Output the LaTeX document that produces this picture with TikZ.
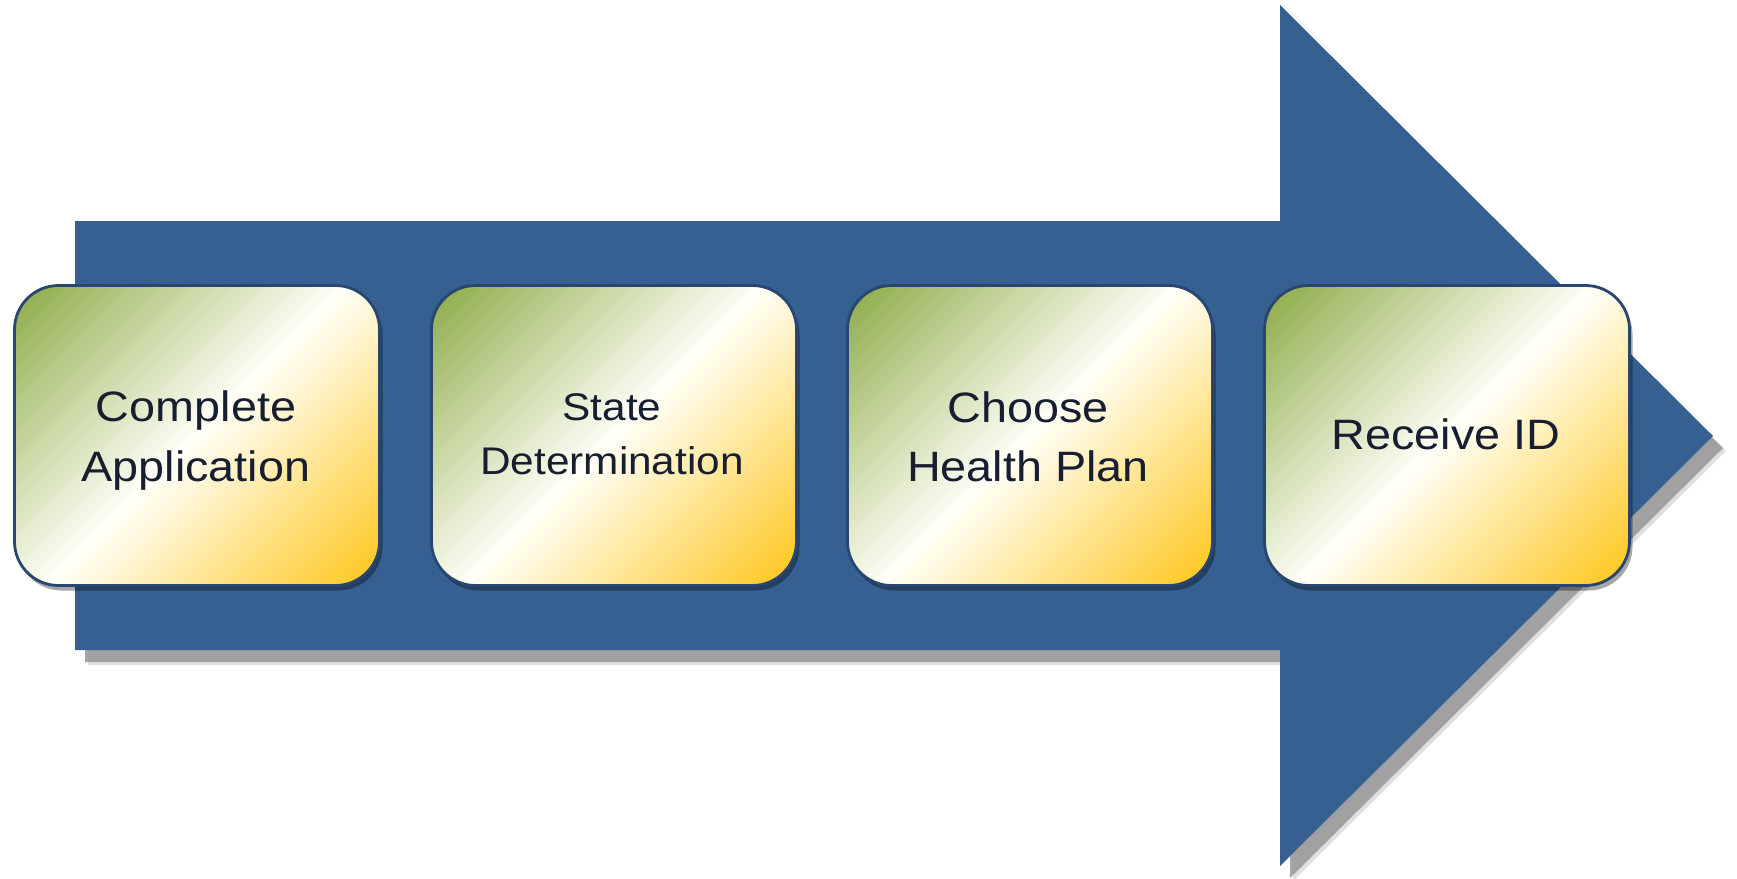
\documentclass[tikz,border=0pt]{standalone}
\usepackage{fontspec}
\setmainfont{Liberation Sans}
\newfontfamily\boxfont[FakeStretch=1.1]{Liberation Sans}
\usetikzlibrary{shadows}
\definecolor{arrowblue}{RGB}{54,96,146}
\definecolor{boxedge}{RGB}{40,70,112}
\definecolor{gtop}{RGB}{138,168,66}
\definecolor{gbot}{RGB}{255,196,20}
\definecolor{gmid}{RGB}{255,255,248}
\definecolor{txt}{RGB}{22,30,48}
\definecolor{shadowgray}{RGB}{150,150,150}
\pgfdeclareverticalshading{stepshade}{100bp}{color(0bp)=(gbot); color(14bp)=(gbot); color(50bp)=(gmid); color(86bp)=(gtop); color(100bp)=(gtop)}
\begin{document}
\begin{tikzpicture}[x=1pt,y=-1pt,
  stepbox/.style={draw=boxedge, line width=2.8pt, rounded corners=44pt,
    minimum width=365pt, minimum height=300pt, inner sep=0pt,
    shading=stepshade, shading angle=45,
    drop shadow={shadow xshift=3pt, shadow yshift=-5pt, fill=black, opacity=0.35}},
  bigtext/.style={font=\boxfont\fontsize{42.5}{42.5}\selectfont, text=txt, anchor=base, inner sep=0pt},
  smalltext/.style={font=\boxfont\fontsize{38.5}{38.5}\selectfont, text=txt, anchor=base, inner sep=0pt},
  arrowshadow/.style={fill=shadowgray},
  arrowbody/.style={fill=arrowblue}]
\useasboundingbox (0,0) rectangle (1737,878);
% arrow shadow (soft)
\fill[arrowshadow, opacity=0.3, shift={(13,15)}]
  (75,221) -- (1280,221) -- (1280,5) -- (1713,436) -- (1280,866) -- (1280,650) -- (75,650) -- cycle;
\fill[arrowshadow, opacity=0.85, shift={(10,12)}]
  (75,221) -- (1280,221) -- (1280,5) -- (1713,436) -- (1280,866) -- (1280,650) -- (75,650) -- cycle;
% arrow
\fill[arrowbody]
  (75,221) -- (1280,221) -- (1280,5) -- (1713,436) -- (1280,866) -- (1280,650) -- (75,650) -- cycle;
% boxes
\node[stepbox] (b1) at (197,435.5) {};
\node[stepbox] (b2) at (614,435.5) {};
\node[stepbox] (b3) at (1030,435.5) {};
\node[stepbox] (b4) at (1447,435.5) {};
% texts
\node[bigtext] (t1a) at (196,421) {Complete};
\node[bigtext] (t1b) at (196,481) {Application};
\node[smalltext] (t2a) at (612,420) {State};
\node[smalltext] (t2b) at (612,474) {Determination};
\node[bigtext] (t3a) at (1028,422) {Choose};
\node[bigtext] (t3b) at (1028,481) {Health Plan};
\node[bigtext] (t4) at (1446,449) {Receive ID};
\end{tikzpicture}
\end{document}
